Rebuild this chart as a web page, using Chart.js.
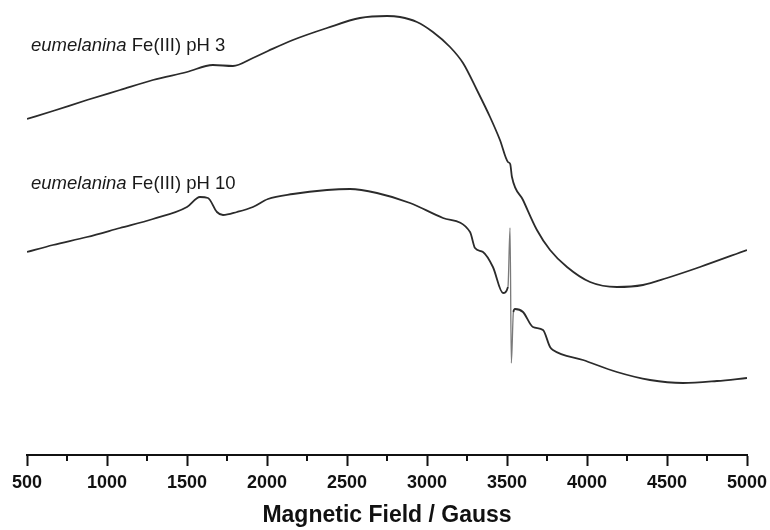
<!DOCTYPE html>
<html>
<head>
<meta charset="utf-8">
<script src="https://cdn.jsdelivr.net/npm/chart.js@4/dist/chart.umd.min.js"></script>
<style>
  html, body { margin: 0; padding: 0; background: #fff; }
  #wrap { width: 770px; height: 530px; }
</style>
</head>
<body>
<div id="wrap"><canvas id="eprChart" width="770" height="530"></canvas></div>
<script>
// field values (Gauss) and EPR signal (arbitrary units)
const fieldPH3 = [500, 662, 875, 1081, 1287, 1500, 1662, 1787, 1912, 2006, 2162, 2375, 2581, 2750, 2831, 2937, 3037, 3144, 3225, 3312, 3394, 3456, 3506, 3520, 3531, 3600, 3687, 3769, 3875, 4019, 4187, 4350, 4500, 4706, 5000];
const signalPH3 = [341, 349, 360, 370, 380, 388, 395, 394, 402, 409, 420, 432, 442, 444, 443, 438, 428, 413, 397, 370, 343, 320, 298, 296, 283, 260, 230, 210, 193, 178, 173, 175, 182, 193, 210];

const fieldPH10 = [500, 662, 875, 1081, 1287, 1500, 1581, 1631, 1687, 1725, 1812, 1912, 2006, 2162, 2375, 2519, 2687, 2894, 3100, 3269, 3300, 3350, 3412, 3475, 3506, 3519, 3527, 3540, 3550, 3600, 3662, 3725, 3769, 3787, 3975, 4187, 4394, 4600, 4812, 5000];
const signalPH10 = [208, 215, 223, 232, 241, 253, 263, 262, 248, 245, 248, 253, 261, 266, 270, 271, 267, 257, 242, 228, 212, 208, 193, 167, 173, 232, 97, 148, 151, 148, 133, 130, 113, 110, 100, 88, 80, 77, 79, 82];

const seriesLabels = ["eumelanina", "Fe(III) pH 3", "Fe(III) pH 10"];
const xTitle = "Magnetic Field / Gauss";

function toPoints(xs, ys) {
  return xs.map((x, i) => ({ x: x, y: ys[i] }));
}

// short minor ticks every 250 G, pointing down like the major ones
const minorTicks = {
  id: "minorTicks",
  afterDraw(chart) {
    const sc = chart.scales.x;
    const ctx = chart.ctx;
    ctx.save();
    ctx.strokeStyle = "#111";
    ctx.lineWidth = 2;
    for (let v = 750; v < 5000; v += 500) {
      const px = Math.round(sc.getPixelForValue(v));
      ctx.beginPath();
      ctx.moveTo(px, sc.top);
      ctx.lineTo(px, sc.top + 6);
      ctx.stroke();
    }
    ctx.restore();
  }
};

// the two curve labels: italic sample name + upright condition
const curveLabels = {
  id: "curveLabels",
  afterDraw(chart) {
    const ctx = chart.ctx;
    const put = (x, y, rest) => {
      ctx.font = "italic 18.5px 'Liberation Sans', Arial, sans-serif";
      ctx.fillText(seriesLabels[0], x, y);
      const w = ctx.measureText(seriesLabels[0] + " ").width;
      ctx.font = "18.5px 'Liberation Sans', Arial, sans-serif";
      ctx.fillText(rest, x + w, y);
    };
    ctx.save();
    ctx.fillStyle = "#1a1a1a";
    ctx.textBaseline = "alphabetic";
    put(31, 51, seriesLabels[1]);
    put(31, 189, seriesLabels[2]);
    ctx.restore();
  }
};

const ctx = document.getElementById("eprChart").getContext("2d");
new Chart(ctx, {
  type: "line",
  data: {
    datasets: [{
      label: seriesLabels[1],
      data: toPoints(fieldPH3, signalPH3),
      borderColor: "#2b2b2b",
      borderWidth: 1.8,
      pointRadius: 0,
      cubicInterpolationMode: "monotone"
    }, {
      label: seriesLabels[2],
      data: toPoints(fieldPH10, signalPH10),
      borderColor: "#2b2b2b",
      borderWidth: 1.8,
      pointRadius: 0,
      cubicInterpolationMode: "monotone",
      segment: {
        borderColor: c => (c.p0.parsed.x >= 3506 && c.p0.parsed.x < 3540) ? "#7a7a7a" : undefined,
        borderWidth: c => (c.p0.parsed.x >= 3506 && c.p0.parsed.x < 3540) ? 1.3 : undefined
      }
    }]
  },
  options: {
    responsive: false,
    animation: false,
    layout: { padding: { left: 27, right: 23, top: 0, bottom: 0 } },
    plugins: {
      legend: { display: false },
      tooltip: { enabled: false }
    },
    scales: {
      x: {
        type: "linear",
        min: 500,
        max: 5000,
        afterFit: s => { s.height = 75; s.paddingLeft = 0; s.paddingRight = 0; },
        border: { display: true, color: "#111", width: 2 },
        grid: { drawOnChartArea: false, drawTicks: true, tickLength: 11, tickWidth: 2, tickColor: "#111" },
        ticks: {
          stepSize: 500,
          padding: 6,
          color: "#111",
          maxRotation: 0,
          callback: v => String(v),
          font: { family: "'Liberation Sans', Arial, sans-serif", size: 18, weight: "bold" }
        },
        title: {
          display: true,
          text: xTitle,
          color: "#111",
          padding: { top: 0, bottom: 1 },
          font: { family: "'Liberation Sans', Arial, sans-serif", size: 23, weight: "bold" }
        }
      },
      y: {
        display: false,
        min: 5,
        max: 460
      }
    }
  },
  plugins: [minorTicks, curveLabels]
});
</script>
</body>
</html>
